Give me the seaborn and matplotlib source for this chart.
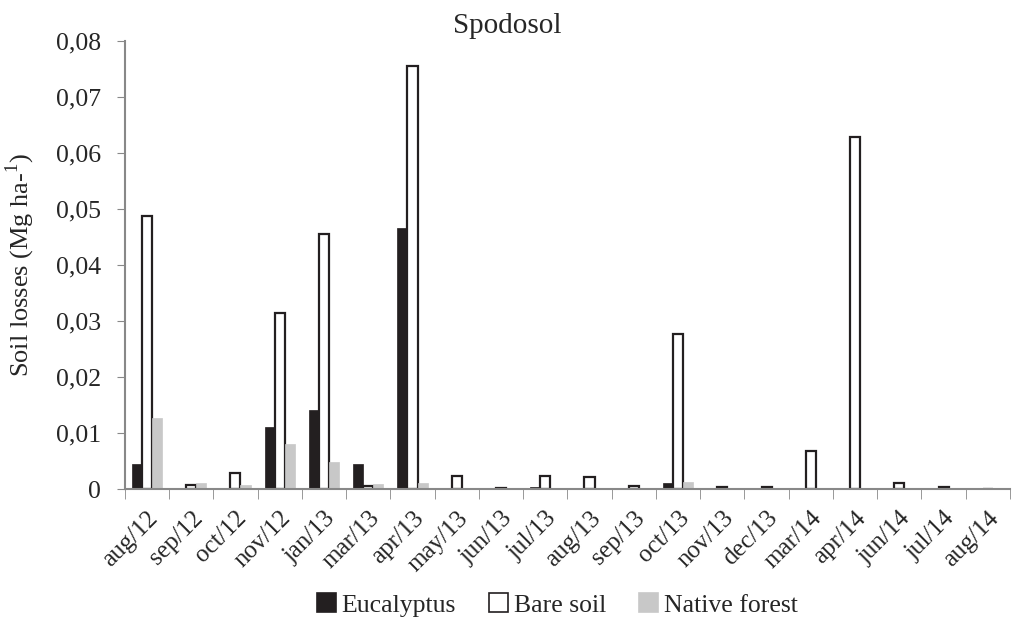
import matplotlib
matplotlib.use("Agg")
import matplotlib.pyplot as plt
import seaborn as sns
import pandas as pd
import numpy as np
from matplotlib.ticker import FuncFormatter, FixedLocator, NullFormatter
from matplotlib.patches import Patch

months = ["aug/12", "sep/12", "oct/12", "nov/12", "jan/13", "mar/13", "apr/13", "may/13",
          "jun/13", "jul/13", "aug/13", "sep/13", "oct/13", "nov/13", "dec/13", "mar/14",
          "apr/14", "jun/14", "jul/14", "aug/14"]
eucalyptus = [0.0045, 0.0001, 0.0001, 0.0111, 0.0141, 0.0044, 0.0466, 0.0, 0.0002, 0.0004,
              0.0, 0.0, 0.0010, 0.0, 0.0, 0.0, 0.0, 0.0, 0.0, 0.0]
bare_soil = [0.0488, 0.0008, 0.0028, 0.0314, 0.0456, 0.0006, 0.0755, 0.0024, 0.0002, 0.0023,
             0.0022, 0.0005, 0.0276, 0.0004, 0.0003, 0.0068, 0.0628, 0.0011, 0.0003, 0.0]
native_forest = [0.0126, 0.0011, 0.0008, 0.0080, 0.0048, 0.0009, 0.0011, 0.0, 0.0002, 0.0002,
                 0.0001, 0.0, 0.0013, 0.0, 0.0, 0.0, 0.0, 0.0, 0.0, 0.0]
series = ["Eucalyptus", "Bare soil", "Native forest"]

df = pd.DataFrame({
    "month": months * 3,
    "value": eucalyptus + bare_soil + native_forest,
    "series": [series[0]] * len(months) + [series[1]] * len(months) + [series[2]] * len(months),
})

sns.set_style("white")
plt.rcParams["font.family"] = ["Liberation Serif", "DejaVu Serif"]
plt.rcParams["mathtext.fontset"] = "custom"
plt.rcParams["mathtext.rm"] = "Liberation Serif"

fig = plt.figure(figsize=(10.15, 6.27), dpi=100)
ax = fig.add_axes([0.123, 0.22, 0.872, 0.715])

colors = {"Eucalyptus": "#231f20", "Bare soil": "#ffffff", "Native forest": "#c8c8c8"}
sns.barplot(data=df, x="month", y="value", hue="series", order=months, hue_order=series,
            palette=colors, width=0.68, ax=ax, legend=False, saturation=1)

edge = {"Eucalyptus": "#231f20", "Bare soil": "#231f20", "Native forest": "#c8c8c8"}
for cont, s in zip(ax.containers, series):
    for p in cont.patches:
        p.set_edgecolor(edge[s])
        p.set_linewidth(1.6 if s == "Bare soil" else 0.5)

ax.set_ylim(0, 0.08)
ax.set_xlim(-0.5, len(months) - 0.5)
ax.set_yticks(np.arange(0, 0.0801, 0.01))
ax.yaxis.set_major_formatter(FuncFormatter(lambda v, p: "0" if abs(v) < 1e-9 else f"{v:.2f}".replace(".", ",")))
ax.tick_params(axis="y", labelsize=18.5, length=6, color="#888888", direction="out", left=True, pad=11)
ax.tick_params(axis="x", which="major", labelsize=18, length=0, pad=13)
ax.xaxis.set_minor_locator(FixedLocator(np.arange(-0.5, len(months), 1.0)))
ax.xaxis.set_minor_formatter(NullFormatter())
ax.tick_params(axis="x", which="minor", length=7, color="#888888", direction="out", bottom=True)
for lbl in ax.get_xticklabels():
    lbl.set_rotation(45)
    lbl.set_ha("right")
    lbl.set_rotation_mode("anchor")

for s in ["top", "right"]:
    ax.spines[s].set_visible(False)
for s in ["left", "bottom"]:
    ax.spines[s].set_color("#888888")
    ax.spines[s].set_linewidth(1.5)

ax.set_xlabel("")
ax.set_ylabel("Soil losses (Mg ha-$^{\\mathregular{1}}$)", fontsize=19, labelpad=14)
fig.suptitle("Spodosol", fontsize=21, x=0.5, y=0.958, va="center")

handles = [Patch(facecolor=colors[s], edgecolor=edge[s] if s != "Native forest" else colors[s], linewidth=1.2, label=s)
           for s in series]
fig.legend(handles=handles, loc="center", bbox_to_anchor=(0.549, 0.035), ncol=3, frameon=False,
           fontsize=18.5, handlelength=0.75, handleheight=0.75, handletextpad=0.2, columnspacing=1.3,
           borderpad=0)

fig.savefig("out.png", dpi=100)
